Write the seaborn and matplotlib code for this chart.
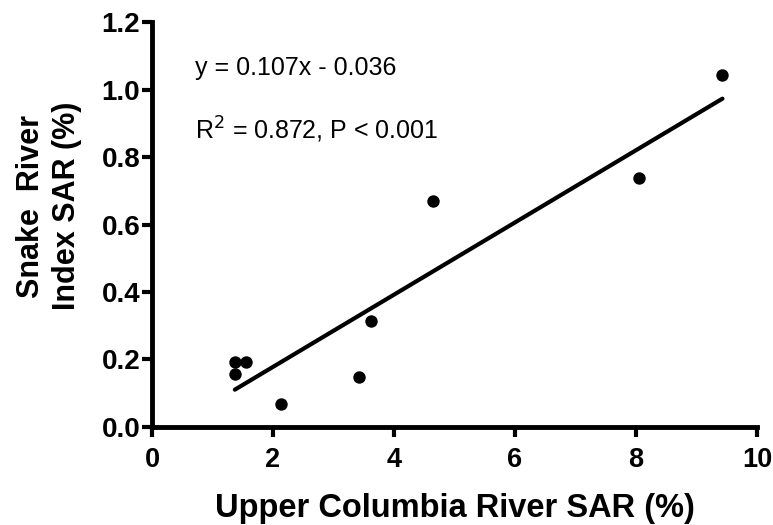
import numpy as np
import pandas as pd
import matplotlib
matplotlib.use("Agg")
import matplotlib.pyplot as plt
import seaborn as sns

# data
upper_columbia_sar = [1.37, 1.37, 1.55, 2.13, 3.42, 3.62, 4.65, 8.05, 9.43]
snake_river_sar    = [0.193, 0.157, 0.192, 0.068, 0.149, 0.313, 0.670, 0.737, 1.043]
slope, intercept = 0.107, -0.036
x_ticks = [0, 2, 4, 6, 8, 10]
y_ticks = [0.0, 0.2, 0.4, 0.6, 0.8, 1.0, 1.2]

df = pd.DataFrame({"x": upper_columbia_sar, "y": snake_river_sar})
fit_x = np.array([min(upper_columbia_sar), max(upper_columbia_sar)])
fit = pd.DataFrame({"x": fit_x, "y": slope * fit_x + intercept})

sns.set_style("ticks")
plt.rcParams["font.family"] = ["Liberation Sans", "DejaVu Sans"]
plt.rcParams["text.color"] = "black"
plt.rcParams["axes.labelcolor"] = "black"

fig = plt.figure(figsize=(7.73, 5.25), dpi=100)
ax = fig.add_axes([0.1966, 0.1867, 0.7826, 0.7713])

sns.lineplot(data=fit, x="x", y="y", color="black", linewidth=3, ax=ax)
sns.scatterplot(data=df, x="x", y="y", color="black", s=80, edgecolor="black",
                linewidth=0, ax=ax, zorder=5)

ax.set_xlim(0, 10)
ax.set_ylim(0, 1.2)
ax.set_xticks(x_ticks)
ax.set_yticks(y_ticks)
ax.set_xticklabels([str(t) for t in x_ticks], fontsize=19.5, fontweight="bold")
ax.set_yticklabels([f"{t:.1f}" for t in y_ticks], fontsize=20, fontweight="bold")
ax.tick_params(width=3, length=7.5, direction="out", colors="black")
ax.tick_params(axis="x", pad=7)
ax.tick_params(axis="y", pad=1)
for side in ["left", "bottom"]:
    ax.spines[side].set_linewidth(3.5)
    ax.spines[side].set_color("black")
sns.despine(ax=ax)

ax.set_xlabel("Upper Columbia River SAR (%)", fontsize=23.5, fontweight="bold", labelpad=14)
ax.set_ylabel("Snake  River\nIndex SAR (%)", fontsize=22, fontweight="bold",
              linespacing=1.3)
ax.yaxis.set_label_coords(-0.115, 0.545)

ax.text(0.71, 1.064, f"y = {slope}x - {abs(intercept)}", fontsize=18, va="center")
ax.text(0.71, 0.88, "R$^2$ = 0.872, P < 0.001", fontsize=18, va="center")

fig.savefig("out.png", dpi=100)
